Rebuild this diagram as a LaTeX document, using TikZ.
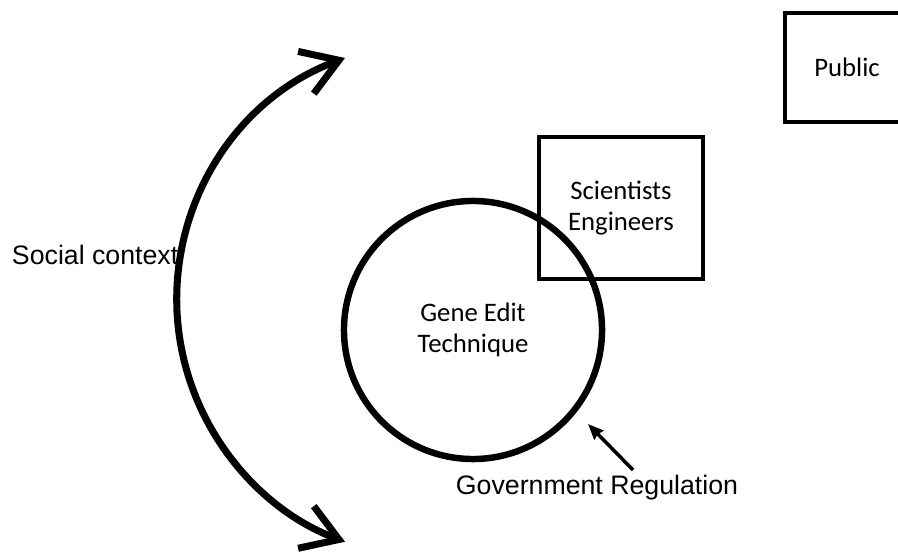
\documentclass[tikz,border=0pt]{standalone}
\usepackage{fontspec}
\setmainfont{Carlito}
\newfontfamily\arialfont{Liberation Sans}
\usetikzlibrary{arrows.meta}

\tikzset{
  sidelabel/.style={font=\arialfont\fontsize{19}{23}\selectfont},
  boxlabel/.style={font=\fontsize{19}{22.5}\selectfont, align=center},
  actorbox/.style={draw, line width=2.8pt, boxlabel},
  contextarrow/.style={line width=5pt, {Straight Barb[length=25pt, width=32pt]}-{Straight Barb[length=25pt, width=32pt]}},
}

\begin{document}
\begin{tikzpicture}[x=0.025cm, y=0.025cm]
  \useasboundingbox (0,0) rectangle (898,559);
  \node[circle, draw, line width=4.6pt, minimum size=6.45cm, boxlabel] (gene) at (473,229) {Gene Edit\\Technique};
  \node[actorbox, minimum width=4.1cm, minimum height=3.55cm] (sci) at (621,351) {\raisebox{-4pt}{Scientists}\\\raisebox{-4pt}{Engineers}};
  \node[actorbox, minimum width=3.1cm, minimum height=2.725cm] (public) at (847,491.5) {Public};
  \node[sidelabel, anchor=base west] (social) at (7,294) {Social context};
  \node[sidelabel] (govreg) at (597,71) {Government Regulation};
  \coordinate (ctxtop) at (345,501);
  \draw[contextarrow] (ctxtop) arc[start angle=110.4, end angle=249.6, radius=6.45cm];
  \coordinate (regtail) at (633,89);
  \coordinate (regtip) at (588,135);
  \draw[line width=2.5pt, -{Stealth[length=11pt, width=9pt, inset=1pt]}] (regtail) -- (regtip);
\end{tikzpicture}
\end{document}
